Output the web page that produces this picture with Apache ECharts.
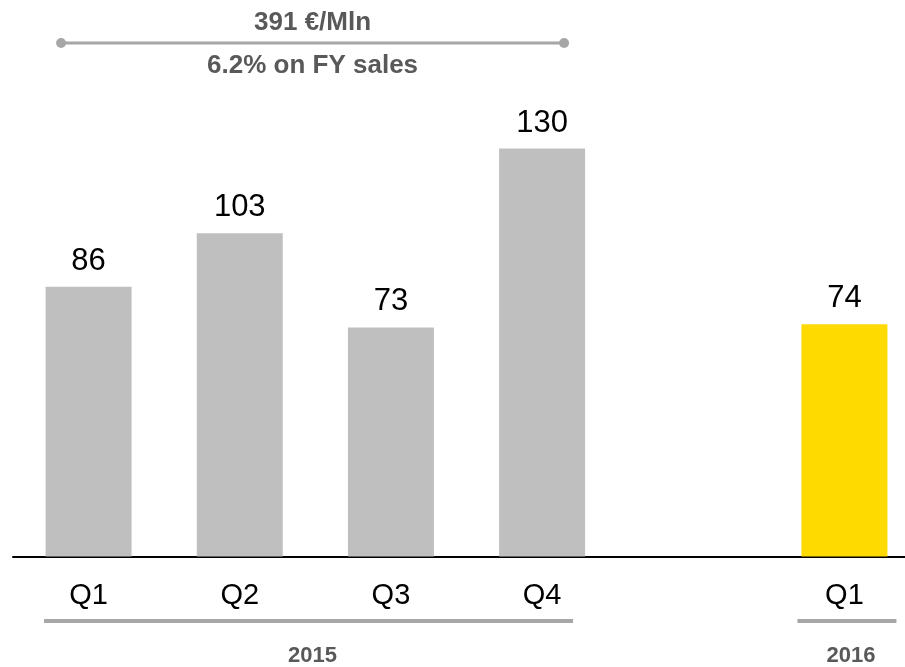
<!DOCTYPE html>
<html>
<head>
<meta charset="utf-8">
<style>
  html, body { margin: 0; padding: 0; background: #ffffff; overflow: hidden; }
  /* the plot band runs a little past the right edge of the window */
  #chart { width: 920px; height: 667px; }
</style>
<script src="https://cdn.jsdelivr.net/npm/echarts@6/dist/echarts.min.js"></script>
</head>
<body>
<div id="chart"></div>
<script>
// Quarterly values (€/Mln); the blank slot separates the two years
const categories = ['Q1', 'Q2', 'Q3', 'Q4', '', 'Q1'];
const values = [86, 103, 73, 130, null, 74];
const highlight = [false, false, false, false, false, true];

// Year groupings under the axis: first and last category index
const yearLabels = ['2015', '2016'];
const yearFrom = [0, 5];
const yearTo = [3, 5];

// Full-year summary above the 2015 bars
const totalLabel = '391 €/Mln';
const shareLabel = '6.2% on FY sales';
const totalFrom = 0;
const totalTo = 3;

const GREY_BAR = '#bfbfbf';
const YELLOW_BAR = '#ffda00';
const TEXT_GREY = '#595959';
const LINE_GREY = '#a6a6a6';
const FONT = 'Liberation Sans, Arial, sans-serif';

// How far each year rule reaches past its outer bar centres (left, right)
const yearRulePad = [[44.5, 31], [47, 52]];

const chart = echarts.init(document.getElementById('chart'), null, { renderer: 'canvas' });

chart.setOption({
  animation: false,
  backgroundColor: '#ffffff',
  grid: { left: 13, right: 0, top: 85.8, bottom: 110.5, containLabel: false },
  xAxis: {
    type: 'category',
    data: categories,
    axisLine: { show: true, lineStyle: { color: '#000000', width: 2 } },
    axisTick: { show: false },
    axisLabel: { color: '#000000', fontSize: 29, fontFamily: FONT, margin: 25, interval: 0 }
  },
  yAxis: {
    type: 'value',
    min: 0,
    max: 150,
    show: false,
    splitLine: { show: false }
  },
  series: [{
    type: 'bar',
    barWidth: 86,
    data: values.map((v, i) => ({
      value: v,
      itemStyle: { color: highlight[i] ? YELLOW_BAR : GREY_BAR }
    })),
    label: {
      show: true,
      position: 'top',
      distance: 10,
      color: '#000000',
      fontSize: 31,
      fontFamily: FONT
    }
  }]
});

// Annotations placed from the category axis positions
function xOf(i) {
  return chart.convertToPixel({ xAxisIndex: 0 }, i);
}

const graphics = [];

// Year rules and labels
yearLabels.forEach((label, g) => {
  const x1 = xOf(yearFrom[g]) - yearRulePad[g][0];
  const x2 = xOf(yearTo[g]) + yearRulePad[g][1];
  graphics.push({
    type: 'line',
    shape: { x1: x1, y1: 621, x2: x2, y2: 621 },
    style: { stroke: LINE_GREY, lineWidth: 4 },
    silent: true
  });
  graphics.push({
    type: 'text',
    x: (x1 + x2) / 2 + 4,
    y: 655.5,
    style: {
      text: label,
      fill: TEXT_GREY,
      font: 'bold 22px ' + FONT,
      align: 'center',
      verticalAlign: 'middle'
    },
    silent: true
  });
});

// Full-year total bracket with end dots
{
  const x1 = xOf(totalFrom) - 27.5;
  const x2 = xOf(totalTo) + 22;
  const y = 43;
  graphics.push({
    type: 'line',
    shape: { x1: x1, y1: y, x2: x2, y2: y },
    style: { stroke: LINE_GREY, lineWidth: 3 },
    silent: true
  });
  [x1, x2].forEach(cx => graphics.push({
    type: 'circle',
    shape: { cx: cx, cy: y, r: 5 },
    style: { fill: LINE_GREY },
    silent: true
  }));
  graphics.push({
    type: 'text',
    x: (x1 + x2) / 2,
    y: 22.5,
    style: { text: totalLabel, fill: TEXT_GREY, font: 'bold 26px ' + FONT, align: 'center', verticalAlign: 'middle' },
    silent: true
  });
  graphics.push({
    type: 'text',
    x: (x1 + x2) / 2,
    y: 65.5,
    style: { text: shareLabel, fill: TEXT_GREY, font: 'bold 26px ' + FONT, align: 'center', verticalAlign: 'middle' },
    silent: true
  });
}

chart.setOption({ graphic: graphics });
</script>
</body>
</html>
